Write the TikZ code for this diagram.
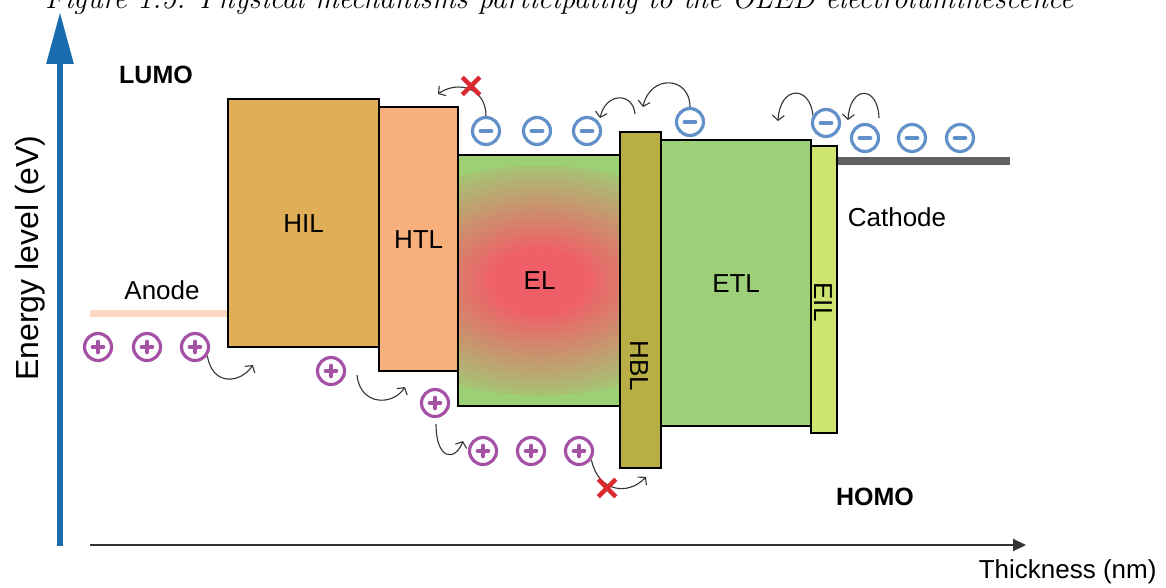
\documentclass[tikz,border=0pt]{standalone}
\usepackage{fontspec}
\setsansfont{Liberation Sans}
\usetikzlibrary{arrows.meta,shapes.misc}
\definecolor{hilc}{HTML}{E1AE58}
\definecolor{htlc}{HTML}{F7B07B}
\definecolor{elgreen}{HTML}{9DCF75}
\definecolor{elred}{HTML}{F05E68}
\definecolor{hblc}{HTML}{B9AD45}
\definecolor{etlc}{HTML}{9DCF78}
\definecolor{eilc}{HTML}{CDE56F}
\definecolor{eblue}{HTML}{6290C8}
\definecolor{hpurple}{HTML}{A552A6}
\definecolor{axblue}{HTML}{1B6BAF}
\definecolor{xred}{HTML}{DA2A30}
\definecolor{anodec}{HTML}{FCD8C2}
\definecolor{cathc}{HTML}{606060}
\definecolor{hopc}{HTML}{333333}
\pgfdeclareradialshading{elshade}{\pgfpoint{0bp}{0bp}}{color(0bp)=(elred); color(6bp)=(elred); color(25bp)=(elgreen); color(50bp)=(elgreen)}
\begin{document}
\begin{tikzpicture}[x=1pt,y=-1pt,
  lab/.style={font=\sffamily\fontsize{26}{26}\selectfont},
  boldlab/.style={font=\sffamily\bfseries\fontsize{25}{25}\selectfont},
  layerbox/.style={draw=black, line width=2.2, inner sep=0, anchor=north west, lab},
  electron/.style={circle, draw=eblue, line width=3.2, minimum size=27, inner sep=0,
    path picture={\draw[eblue, line width=3.8, line cap=round]
      ([xshift=-5.5pt]path picture bounding box.center) -- ([xshift=5.5pt]path picture bounding box.center);}},
  hole/.style={circle, draw=hpurple, line width=3.2, minimum size=27, inner sep=0,
    path picture={\draw[hpurple, line width=3.6, line cap=round]
      ([xshift=-5.5pt]path picture bounding box.center) -- ([xshift=5.5pt]path picture bounding box.center)
      ([yshift=-5.5pt]path picture bounding box.center) -- ([yshift=5.5pt]path picture bounding box.center);}},
  hop/.style={draw=hopc, line width=1.1, -{Straight Barb[length=5pt,width=12pt,line width=1.1pt]}},
  blocked/.style={cross out, draw=xred, line width=4.5, minimum size=13, inner sep=0}
]
\useasboundingbox (0,0) rectangle (1166,588);
\clip (0,0) rectangle (1166,588);

% caption (cut at the top, as in the reference)
\node[anchor=base west, inner sep=0, font=\fontsize{30}{30}\selectfont\itshape] (cap) at (45,9)
  {Figure 1.5: Physical mechanisms participating to the OLED electroluminescence};

% axes
\coordinate (ybot) at (60,546);
\coordinate (ytop) at (60,12);
\draw[axblue, line width=6, -{Triangle[length=52pt,width=26pt]}] (ybot) -- (ytop);
\coordinate (xleft) at (90,545);
\coordinate (xright) at (1026,545);
\draw[hopc, line width=2, -{Triangle[length=13pt,width=12pt]}] (xleft) -- (xright);
\node[lab, font=\sffamily\fontsize{32}{32}\selectfont, rotate=90] (ylab) at (30,258) {Energy level (eV)};
\node[lab, anchor=east] (xlab) at (1160,572) {Thickness (nm)};

% electrodes
\coordinate (an1) at (90,313);
\coordinate (an2) at (228,313);
\draw[anodec, line width=7] (an1) -- (an2);
\node[lab] (anode) at (162,290) {Anode};
\coordinate (ca1) at (835,161);
\coordinate (ca2) at (1010,161);
\draw[cathc, line width=8] (ca1) -- (ca2);
\node[lab] (cathode) at (897,217) {Cathode};

% layers
\node[layerbox, fill=hilc, minimum width=151, minimum height=248] (hil) at (227,98) {};
\node[lab] at (hil.center) {HIL};
\node[layerbox, fill=htlc, minimum width=79, minimum height=264] (htl) at (378,106) {};
\node[lab] at (htl.center) {HTL};
\node[layerbox, fill=elgreen, minimum width=163, minimum height=251,
  path picture={\shade[shading=elshade] (path picture bounding box.center) ellipse [x radius=190, y radius=115];}] (el) at (457,154) {};
\node[lab] at (el.center) {EL};
\node[layerbox, fill=hblc, minimum width=41, minimum height=336] (hbl) at (619,131) {};
\node[lab, rotate=-90] (hbllab) at (639,366) {HBL};
\node[layerbox, fill=etlc, minimum width=150, minimum height=286] (etl) at (660,139) {};
\node[lab] at (etl.center) {ETL};
\node[layerbox, fill=eilc, minimum width=26, minimum height=287] (eil) at (810,145) {};
\node[lab, rotate=-90] (eillab) at (823,302) {EIL};

% labels
\node[boldlab] (lumo) at (156,75) {LUMO};
\node[boldlab] (homo) at (875,497) {HOMO};

% electrons
\node[electron] (e1) at (486,131) {};
\node[electron] (e2) at (537,131) {};
\node[electron] (e3) at (587,131) {};
\node[electron] (e4) at (690,122) {};
\node[electron] (e5) at (826,123) {};
\node[electron] (e6) at (865,138) {};
\node[electron] (e7) at (912,138) {};
\node[electron] (e8) at (960,138) {};

% holes
\node[hole] (h1) at (98,347) {};
\node[hole] (h2) at (147,347) {};
\node[hole] (h3) at (195,347) {};
\node[hole] (h4) at (331,371) {};
\node[hole] (h5) at (435,403) {};
\node[hole] (h6) at (483,451) {};
\node[hole] (h7) at (531,451) {};
\node[hole] (h8) at (579,451) {};

% hopping coordinates
\coordinate (p1) at (253,365);
\coordinate (s2) at (357,375);
\coordinate (p2) at (405,387);
\coordinate (s3) at (436,424);
\coordinate (p3) at (463,441);
\coordinate (p4) at (646,477);
\coordinate (p5) at (438,94);
\coordinate (p6) at (643,107);
\coordinate (s7) at (635,114);
\coordinate (p7) at (600,118);
\coordinate (p8) at (778,121);
\coordinate (s9) at (879,118);
\coordinate (p9) at (848,120);

% hole hops
\draw[hop] (h3.-35) .. controls (212,386) and (240,384) .. (p1);
\draw[hop] (s2) .. controls (360,406) and (393,406) .. (p2);
\draw[hop] (s3) .. controls (436,460) and (455,462) .. (p3);
\draw[hop] (h8.-35) .. controls (598,492) and (628,496) .. (p4);

% electron hops
\draw[hop] (e1.north) .. controls (486,88) and (458,80) .. (p5);
\draw[hop] (e4.north) .. controls (690,76) and (650,74) .. (p6);
\draw[hop] (s7) .. controls (633,92) and (606,92) .. (p7);
\draw[hop] (e5.150) .. controls (810,85) and (780,85) .. (p8);
\draw[hop] (s9) .. controls (878,85) and (850,85) .. (p9);

% blocked transfers
\node[blocked] (x1) at (471,86) {};
\node[blocked] (x2) at (607,488) {};
\end{tikzpicture}
\end{document}
